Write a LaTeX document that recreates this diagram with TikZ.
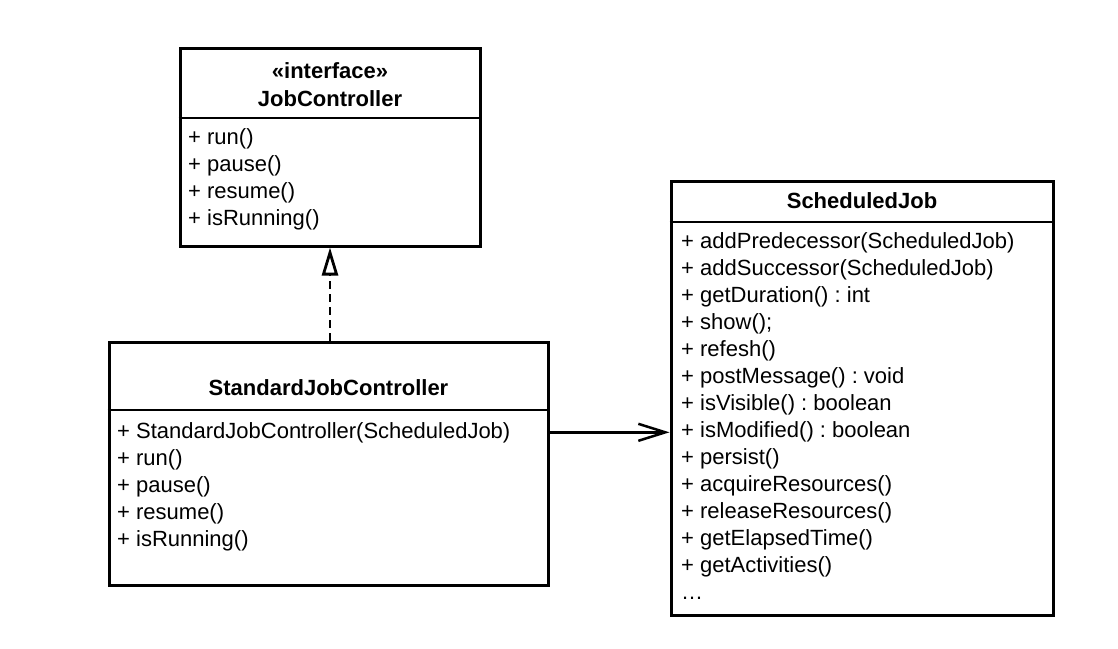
\documentclass[tikz,border=0pt]{standalone}
\usepackage{fontspec}
\setmainfont{Liberation Sans}
\usetikzlibrary{arrows.meta, positioning}
\frenchspacing
\tikzset{
  box/.style = {draw, line width = 3pt, inner sep = 0pt},
  divider/.style = {line width = 1.2pt},
  member/.style = {anchor = base west, inner sep = 0pt, font = \fontsize{22}{27}\selectfont},
  title/.style = {anchor = base, inner sep = 0pt, font = \fontsize{22}{27}\selectfont\bfseries},
  realize/.style = {line width = 2.8pt, dash pattern = on 8pt off 5pt, -{Triangle[open, length = 28pt, width = 16pt]}},
  assoc/.style = {line width = 2.5pt, -{Straight Barb[length = 27pt, width = 17pt]}},
}
\begin{document}
\begin{tikzpicture}[x = 1pt, y = -1pt]
        \useasboundingbox (0, 0) rectangle (1118, 648);
        % class boxes
        \node[box, minimum width = 300pt, minimum height = 198pt] (jc) at (330, 147) {};
        \node[box, minimum width = 439pt, minimum height = 243pt] (sjc) at (328.5, 463.5) {};
        \node[box, minimum width = 382pt, minimum height = 434pt] (sj) at (862, 398) {};
        \coordinate (jc-div) at (0, 118);
        \coordinate (sjc-div) at (0, 410);
        \coordinate (sj-div) at (0, 222);
        \draw[divider] (jc.west |- jc-div) -- (jc.east |- jc-div);
        \draw[divider] (sjc.west |- sjc-div) -- (sjc.east |- sjc-div);
        \draw[divider] (sj.west |- sj-div) -- (sj.east |- sj-div);
        % titles
        \node[title] (jc-stereo) at (330, 78) {«interface»};
        \node[title] (jc-name) at (330, 106) {JobController};
        \node[title] (sjc-name) at (328.5, 395) {StandardJobController};
        \node[title] (sj-name) at (862, 208) {ScheduledJob};
        % members
        \foreach \txt [count = \i] in {run(), pause(), resume(), isRunning()}
        \node[member] (jc-\i) at (188, 117 + 27*\i) {+ \txt};
        \foreach \txt [count = \i] in {StandardJobController(ScheduledJob), run(), pause(), resume(), isRunning()}
        \node[member] (sjc-\i) at (117, 411 + 27*\i) {+ \txt};
        \foreach \txt [count = \i] in {addPredecessor(ScheduledJob), addSuccessor(ScheduledJob), getDuration() : int, show();, refesh(), postMessage() : void, isVisible() : boolean, isModified() : boolean, persist(), acquireResources(), releaseResources(), getElapsedTime(), getActivities()}
        \node[member] (sj-\i) at (681, 221 + 27*\i) {+ \txt};
        \node[member] (sj-more) at (681, 599) {\ldots};
        % relations
        \coordinate (jc-foot) at (jc.south);
        \draw[realize] (sjc.north -| jc-foot) -- (jc-foot);
        \draw[assoc] (sjc.east |- sjc-1) -- (sj.west |- sjc-1);
\end{tikzpicture}
\end{document}
